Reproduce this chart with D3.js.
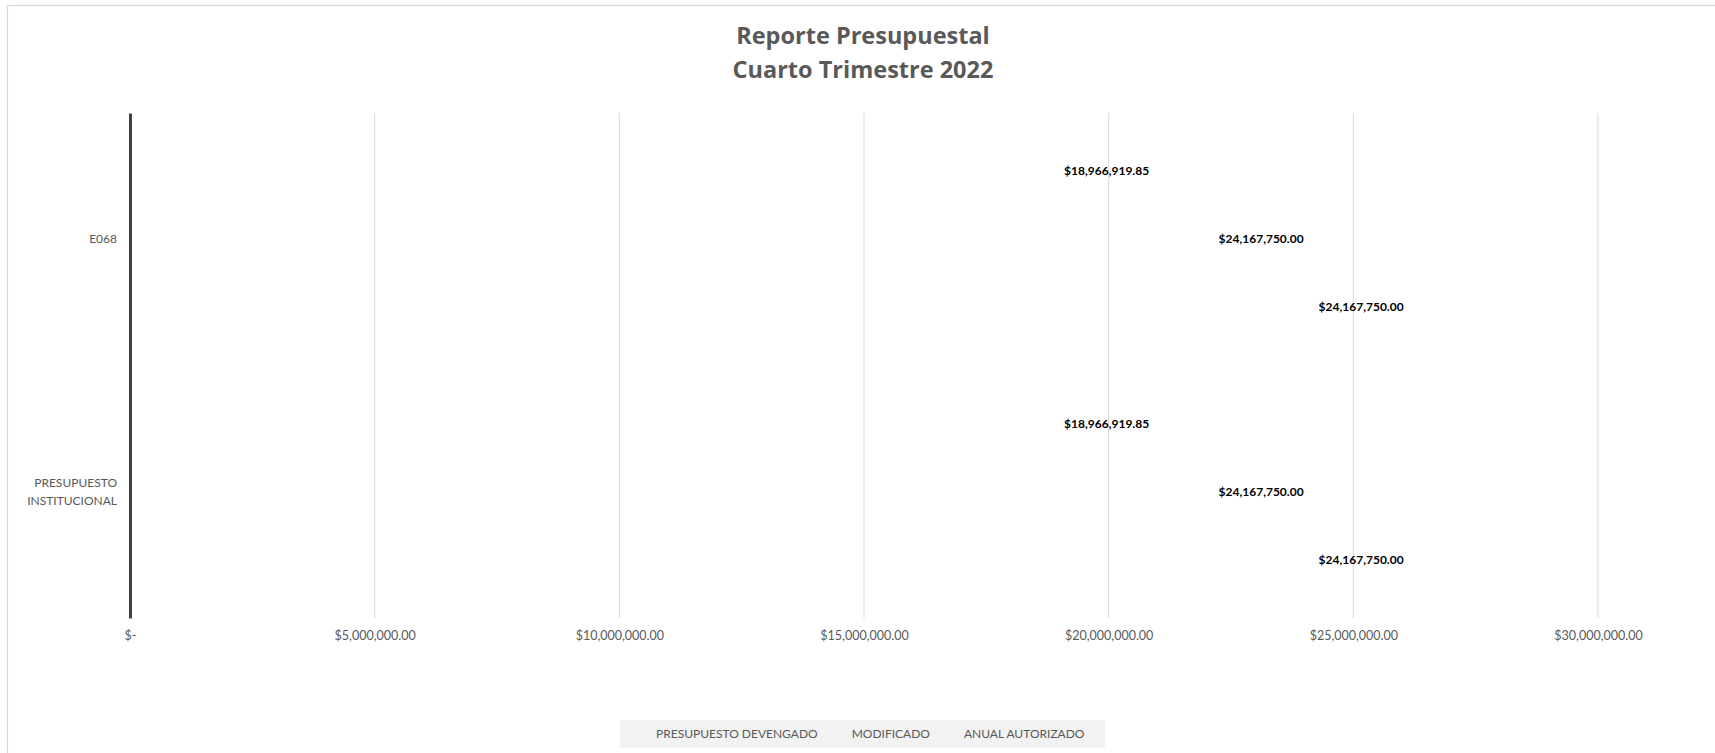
<!DOCTYPE html>
<html>
<head>
<meta charset="utf-8">
<script src="https://cdn.jsdelivr.net/npm/d3@7"></script>
<style>
  body { margin: 0; background: #fff; }
  text { font-family: Lato, "Open Sans", sans-serif; }
</style>
</head>
<body>
<div id="chart"></div>
<script>
// data
const categories = ["E068", "PRESUPUESTO INSTITUCIONAL"];
const series = ["PRESUPUESTO DEVENGADO", "MODIFICADO", "ANUAL AUTORIZADO"];
const devengado = [18966919.85, 18966919.85];
const modificado = [24167750.00, 24167750.00];
const anualAutorizado = [24167750.00, 24167750.00];
const xTicks = [0, 5000000, 10000000, 15000000, 20000000, 25000000, 30000000];
const titleLines = ["Reporte Presupuestal", "Cuarto Trimestre 2022"];

let W = 1715, H = 753;
let margin = { top: 113, left: 130, right: 117, bottom: 135 };
let plotW = W - margin.left - margin.right,
    plotH = H - margin.top - margin.bottom;

let svg = d3.select("#chart").append("svg")
  .attr("width", W)
  .attr("height", H);

// chart area border (right / bottom edges fall outside the picture)
svg.append("rect")
  .attr("x", 7.5).attr("y", 5.5)
  .attr("width", W + 10).attr("height", H + 10)
  .attr("fill", "#fff")
  .attr("stroke", "#d9d9d9")
  .attr("stroke-width", 1.2);

// title
svg.append("g").selectAll("text")
  .data(titleLines)
  .join("text")
  .attr("x", 863)
  .attr("y", (d, i) => 44 + i * 34)
  .attr("text-anchor", "middle")
  .attr("font-size", 23.5)
  .attr("font-weight", "bold")
  .attr("fill", "#595959")
  .style("font-family", "'Open Sans', sans-serif")
  .text(d => d);

let x = d3.scaleLinear().domain([0, 30000000]).range([0, plotW]);
let y0 = d3.scaleBand().domain(categories).range([0, plotH]);
let y1 = d3.scaleBand().domain(series).range([0, y0.bandwidth()])
  .paddingInner(0).paddingOuter(0.357);

let g = svg.append("g")
  .attr("transform", `translate(${margin.left},${margin.top})`);

// gridlines
g.append("g").selectAll("line")
  .data(xTicks.slice(1))
  .join("line")
  .attr("x1", d => x(d)).attr("x2", d => x(d))
  .attr("y1", 0).attr("y2", plotH)
  .attr("stroke", "#d9d9d9")
  .attr("stroke-width", 1);

// x axis labels
function money(v) {
  return v === 0 ? "$-" : "$" + d3.format(",.2f")(v);
}
let xAxis = g.append("g")
  .attr("transform", `translate(0,${plotH})`)
  .call(d3.axisBottom(x).tickValues(xTicks).tickFormat(money).tickSize(0).tickPadding(13));
xAxis.select(".domain").remove();
xAxis.selectAll("text")
  .attr("font-size", 12.5)
  .attr("fill", "#595959")
  .style("font-family", "Lato, 'Open Sans', sans-serif");

// bars (drawn with no fill, as in the original) and labels
let rows = categories.map((c, i) => ({
  cat: c,
  values: [
    { key: series[0], value: devengado[i], pos: "out" },
    { key: series[1], value: modificado[i], pos: "in" },
    { key: series[2], value: anualAutorizado[i], pos: "out" }
  ]
}));

let groups = g.append("g").selectAll("g")
  .data(rows)
  .join("g")
  .attr("transform", d => `translate(0,${y0(d.cat)})`);

groups.selectAll("rect")
  .data(d => d.values)
  .join("rect")
  .attr("x", 0)
  .attr("y", d => y1(d.key))
  .attr("width", d => x(d.value))
  .attr("height", y1.bandwidth())
  .attr("fill", "none")
  .append("title")
  .text(d => d.key + ": " + money(d.value));

groups.selectAll("text.lbl")
  .data(d => d.values)
  .join("text")
  .attr("class", "lbl")
  .attr("x", d => d.pos === "out" ? x(d.value) + 6 : x(d.value) - 9)
  .attr("y", d => y1(d.key) + y1.bandwidth() / 2)
  .attr("dy", "0.35em")
  .attr("text-anchor", d => d.pos === "out" ? "start" : "end")
  .attr("font-size", 12)
  .attr("font-weight", "bold")
  .attr("fill", "#000")
  .text(d => money(d.value));

// y axis (category labels, wrapped)
let yAxis = g.append("g")
  .call(d3.axisLeft(y0).tickSize(0).tickPadding(13).tickFormat(""));
yAxis.select(".domain")
  .attr("stroke", "#404040")
  .attr("stroke-width", 3);
yAxis.selectAll(".tick").each(function(d) {
  let words = d.split(" ");
  let t = d3.select(this).append("text")
    .attr("x", -13)
    .attr("text-anchor", "end")
    .attr("font-size", 12)
    .attr("fill", "#595959")
    .style("font-family", "Lato, 'Open Sans', sans-serif");
  words.forEach((w, i) => {
    t.append("tspan")
      .attr("x", -13)
      .attr("y", (i - (words.length - 1) / 2) * 17.5)
      .attr("dy", "0.35em")
      .text(w);
  });
});

// legend
let legend = svg.append("g");
legend.append("rect")
  .attr("x", 620).attr("y", 720)
  .attr("width", 485).attr("height", 28)
  .attr("fill", "#f2f2f2");
let lx = 656;
series.forEach(s => {
  let t = legend.append("text")
    .attr("x", lx)
    .attr("y", 734)
    .attr("dy", "0.35em")
    .attr("font-size", 12)
    .attr("fill", "#595959")
    .text(s);
  lx += t.node().getComputedTextLength() + 34;
});
</script>
</body>
</html>
